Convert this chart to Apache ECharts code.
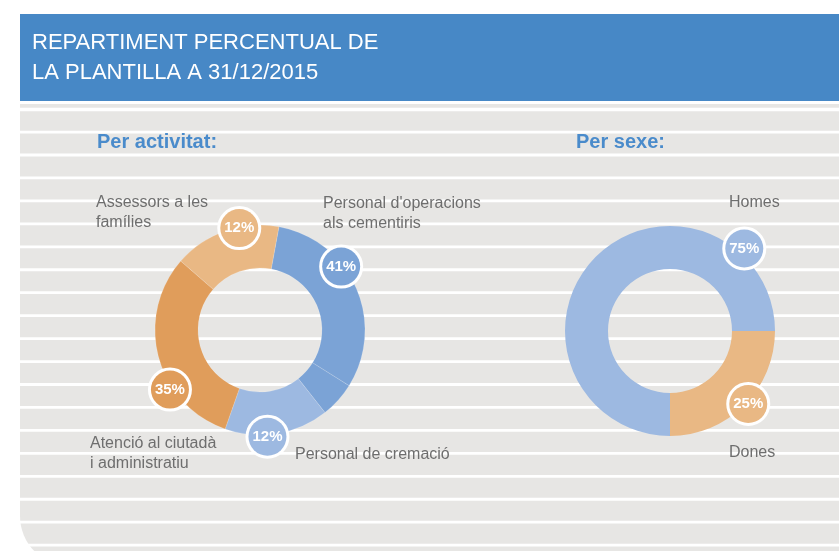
<!DOCTYPE html>
<html>
<head>
<meta charset="utf-8">
<script src="https://cdn.jsdelivr.net/npm/echarts@6/dist/echarts.min.js"></script>
<style>
  html, body { margin: 0; padding: 0; background: #fff; }
  #chart { width: 839px; height: 551px; }
</style>
</head>
<body>
<div id="chart"></div>
<script>
// Per activitat (slice sizes as drawn; bubble texts as printed)
const activityNames = ["Personal d'operacions\nals cementiris", '', 'Personal de cremació', 'Atenció al ciutadà\ni administratiu', 'Assessors a les\nfamílies'];
const activityValues = [31, 5.5, 16, 31, 16.5];
const activityLabels = ['41%', '', '12%', '35%', '12%'];

// Per sexe
const sexNames = ['Homes', 'Dones'];
const sexValues = [75, 25];
const sexLabels = ['75%', '25%'];

const titleLines = 'REPARTIMENT PERCENTUAL DE\nLA PLANTILLA A 31/12/2015';
const subtitles = ['Per activitat:', 'Per sexe:'];

// colours
const BLUE = '#7ba3d6';
const LIGHT_BLUE = '#9db9e1';
const ORANGE = '#e09d5b';
const LIGHT_ORANGE = '#e9b884';
const activityColors = [BLUE, BLUE, LIGHT_BLUE, ORANGE, LIGHT_ORANGE];
const sexColors = [LIGHT_BLUE, LIGHT_ORANGE];

const FONT = "'Liberation Sans', Arial, sans-serif";

// layout: donut centres, bubble placement [angle from 12 o'clock, distance]
const actCenter = [260, 330];
const sexCenter = [670, 331];
const actBubbles = [[52, 103], null, [176, 107], [236.5, 108], [348.5, 104]];
const sexBubbles = [[42, 111], [133, 107]];
const actNamePos = [[323, 194], null, [295, 445], [90, 434], [96, 193]];
const sexNamePos = [[729, 193], [729, 443]];

const chart = echarts.init(document.getElementById('chart'));

// striped background + header
const graphics = [];
graphics.push({
  type: 'rect', silent: true, z: -10,
  shape: { x: 20, y: 104, width: 840, height: 462, r: [0, 0, 0, 50] },
  style: { fill: '#e7e6e4' }
});
for (let k = 0; k < 20; k++) {
  graphics.push({
    type: 'rect', silent: true, z: -9,
    shape: { x: 20, y: 107.7 + 22.95 * k, width: 840, height: k === 0 ? 3.5 : 2.8 },
    style: { fill: '#ffffff' }
  });
}
graphics.push({
  type: 'rect', silent: true, z: -9,
  shape: { x: 20, y: 14, width: 840, height: 87 },
  style: { fill: '#4788c6' }
});
graphics.push({
  type: 'text', silent: true, x: 32, y: 28,
  style: { text: titleLines, fill: '#ffffff', font: '22px ' + FONT, lineHeight: 30, verticalAlign: 'top' }
});
graphics.push({
  type: 'text', silent: true, x: 97, y: 130,
  style: { text: subtitles[0], fill: '#4a8bcb', font: 'bold 20px ' + FONT, lineHeight: 24, verticalAlign: 'top' }
});
graphics.push({
  type: 'text', silent: true, x: 576, y: 130,
  style: { text: subtitles[1], fill: '#4a8bcb', font: 'bold 20px ' + FONT, lineHeight: 24, verticalAlign: 'top' }
});

function addNames(names, pos) {
  names.forEach(function (n, i) {
    if (!n) return;
    graphics.push({
      type: 'text', silent: true, x: pos[i][0], y: pos[i][1],
      style: { text: n, fill: '#6e6e6e', font: '16px ' + FONT, lineHeight: 20, verticalAlign: 'top' }
    });
  });
}
addNames(activityNames, actNamePos);
addNames(sexNames, sexNamePos);

function bubbleLayout(center, bubbles) {
  return function (p) {
    const b = bubbles[p.dataIndex];
    if (!b) return {};
    const a = b[0] * Math.PI / 180;
    return {
      x: center[0] + b[1] * Math.sin(a),
      y: center[1] - b[1] * Math.cos(a),
      align: 'center',
      verticalAlign: 'middle'
    };
  };
}

function makeData(names, values, labels, colors) {
  return values.map(function (v, i) {
    return {
      name: names[i] || ('_' + i),
      value: v,
      itemStyle: { color: colors[i] },
      label: labels[i]
        ? { show: true, formatter: labels[i], backgroundColor: colors[i] }
        : { show: false }
    };
  });
}

const bubbleLabel = {
  show: true,
  position: 'inside',
  color: '#ffffff',
  fontFamily: FONT,
  fontWeight: 'bold',
  fontSize: 15,
  width: 38,
  height: 38,
  lineHeight: 38,
  align: 'center',
  borderColor: '#ffffff',
  borderWidth: 3,
  borderRadius: 20
};

chart.setOption({
  animation: false,
  graphic: graphics,
  series: [
    {
      type: 'pie',
      center: actCenter,
      radius: [62, 105],
      startAngle: 79.6,
      clockwise: true,
      avoidLabelOverlap: false,
      silent: true,
      itemStyle: { borderWidth: 0.6, borderColor: 'rgba(255,255,255,0.25)' },
      label: bubbleLabel,
      labelLine: { show: false },
      labelLayout: bubbleLayout(actCenter, actBubbles),
      data: makeData(activityNames, activityValues, activityLabels, activityColors)
    },
    {
      type: 'pie',
      center: sexCenter,
      radius: [62, 105],
      startAngle: 0,
      clockwise: false,
      avoidLabelOverlap: false,
      silent: true,
      itemStyle: { borderWidth: 0 },
      label: bubbleLabel,
      labelLine: { show: false },
      labelLayout: bubbleLayout(sexCenter, sexBubbles),
      data: makeData(sexNames, sexValues, sexLabels, sexColors)
    }
  ]
});
</script>
</body>
</html>
